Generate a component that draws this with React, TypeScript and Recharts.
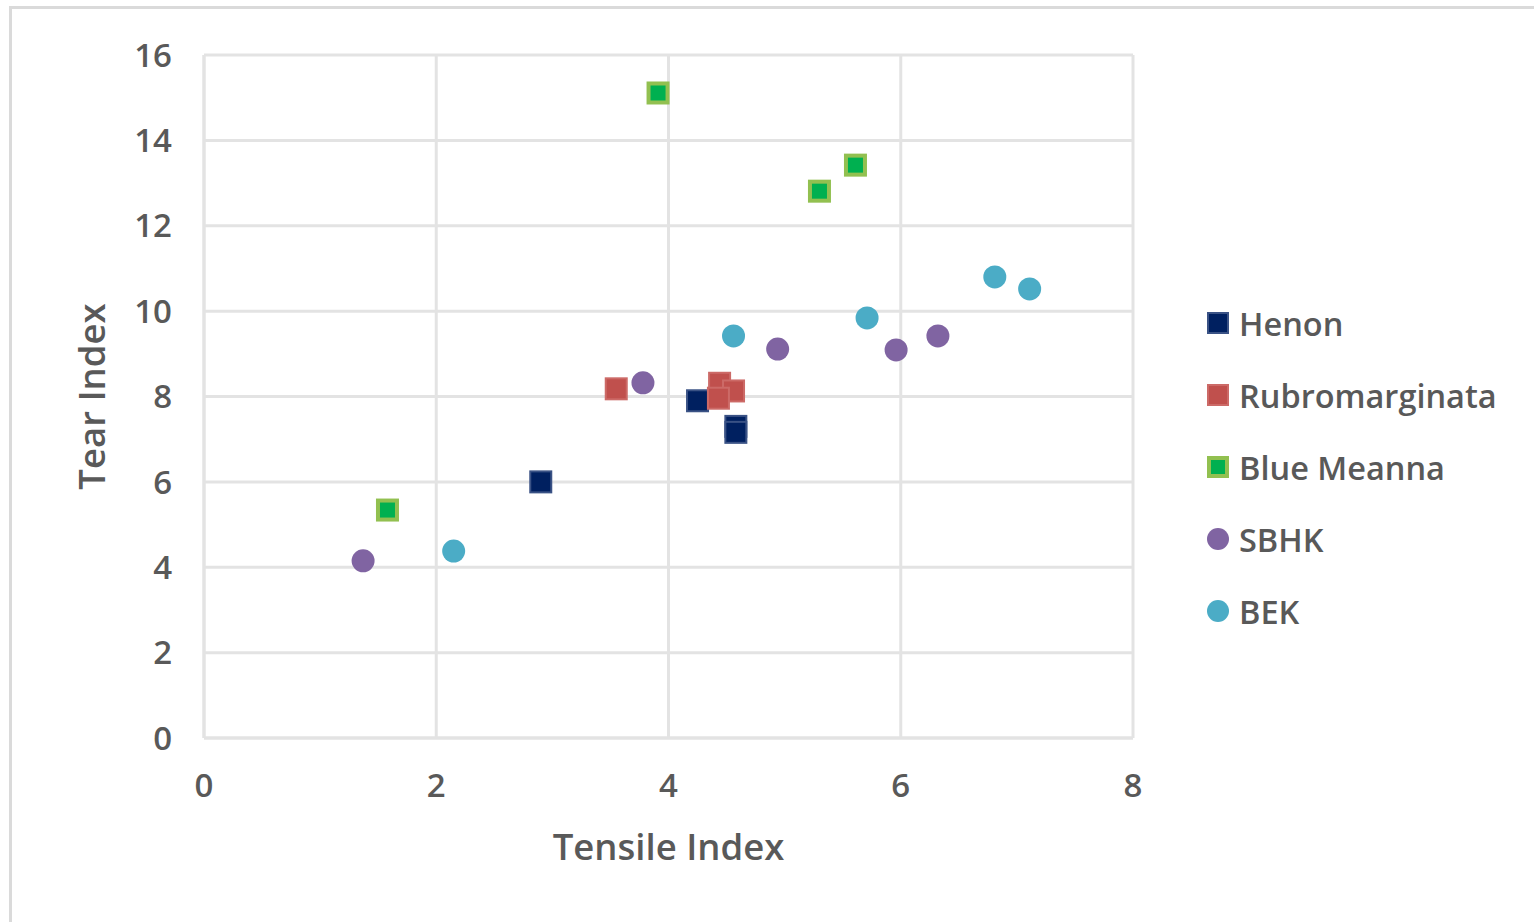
import { ScatterChart, Scatter, XAxis, YAxis, CartesianGrid } from "recharts";

const henonX = [2.9, 4.25, 4.58, 4.58];
const henonY = [6.0, 7.9, 7.3, 7.16];
const rubroX = [3.55, 4.44, 4.56, 4.43];
const rubroY = [8.18, 8.31, 8.13, 7.96];
const meannaX = [3.91, 5.3, 5.61, 1.58];
const meannaY = [15.11, 12.81, 13.42, 5.34];
const sbhkX = [1.37, 3.78, 4.94, 5.96, 6.32];
const sbhkY = [4.15, 8.32, 9.11, 9.09, 9.42];
const bekX = [2.15, 4.56, 5.71, 6.81, 7.11];
const bekY = [4.38, 9.42, 9.84, 10.8, 10.52];

const xTicks = [0, 2, 4, 6, 8];
const yTicks = [0, 2, 4, 6, 8, 10, 12, 14, 16];

const toPoints = (xs: number[], ys: number[]) => xs.map((x, i) => ({ x, y: ys[i] }));

const series = [
  { name: "Henon", data: toPoints(henonX, henonY), kind: "square", fill: "#002060", stroke: "#3a5285", sw: 2 },
  { name: "Rubromarginata", data: toPoints(rubroX, rubroY), kind: "square", fill: "#C0504D", stroke: "#cc6a67", sw: 2 },
  { name: "Blue Meanna", data: toPoints(meannaX, meannaY), kind: "square", fill: "#00B050", stroke: "#92C050", sw: 4 },
  { name: "SBHK", data: toPoints(sbhkX, sbhkY), kind: "circle", fill: "#8064A2", stroke: "#8064A2", sw: 0 },
  { name: "BEK", data: toPoints(bekX, bekY), kind: "circle", fill: "#4BACC6", stroke: "#4BACC6", sw: 0 },
];

const font = "'Open Sans', sans-serif";
const textColor = "#595959";

function makeShape(s: any) {
  return (props: any) => {
    const { cx, cy } = props;
    if (s.kind === "circle") {
      return <circle cx={cx} cy={cy} r={11.5} fill={s.fill} />;
    }
    const size = 23;
    return (
      <rect
        x={cx - size / 2 + s.sw / 2}
        y={cy - size / 2 + s.sw / 2}
        width={size - s.sw}
        height={size - s.sw}
        fill={s.fill}
        stroke={s.stroke}
        strokeWidth={s.sw}
      />
    );
  };
}

function LegendBox() {
  return (
    <div style={{ fontFamily: font, color: textColor }}>
      {series.map((s) => (
        <div key={s.name} style={{ display: "flex", alignItems: "center", height: 72 }}>
          <svg width={26} height={26} style={{ marginRight: 8 }}>
            {s.kind === "circle" ? (
              <circle cx={13} cy={13} r={11} fill={s.fill} />
            ) : (
              <rect
                x={2 + s.sw / 2}
                y={2 + s.sw / 2}
                width={22 - s.sw}
                height={22 - s.sw}
                fill={s.fill}
                stroke={s.stroke}
                strokeWidth={s.sw}
              />
            )}
          </svg>
          <span style={{ fontSize: 32.5, fontWeight: 600 }}>{s.name}</span>
        </div>
      ))}
    </div>
  );
}

export default function App() {
  return (
    <div style={{ position: "absolute", left: 0, top: 0, width: 1534, height: 922, overflow: "hidden", background: "#fff" }}>
      <div
        style={{
          position: "absolute",
          left: 9,
          top: 6,
          width: 1600,
          height: 1000,
          border: "3px solid #dadada",
        }}
      />
      <div style={{ position: "absolute", left: 0, top: 0 }}>
        <ScatterChart width={1534} height={922} margin={{ top: 55, right: 401, bottom: 60, left: 80 }}>
          <CartesianGrid stroke="#e3e3e3" strokeWidth={3} />
          <XAxis
            type="number"
            dataKey="x"
            domain={[0, 8]}
            ticks={xTicks}
            interval={0}
            height={124}
            tickLine={false}
            axisLine={{ stroke: "#e3e3e3", strokeWidth: 3 }}
            tickSize={0}
            tickMargin={36}
            tick={{ fill: textColor, fontSize: 33, fontFamily: font, fontWeight: 600 }}
            label={{
              value: "Tensile Index",
              position: "insideBottom",
              offset: 2,
              style: { fill: textColor, fontSize: 36.5, fontFamily: font, fontWeight: 600 },
            }}
          />
          <YAxis
            type="number"
            dataKey="y"
            domain={[0, 16]}
            ticks={yTicks}
            interval={0}
            width={124}
            tickLine={false}
            axisLine={{ stroke: "#e3e3e3", strokeWidth: 3 }}
            tickSize={0}
            tickMargin={32}
            tick={{ fill: textColor, fontSize: 33, fontFamily: font, fontWeight: 600 }}
            label={{
              value: "Tear Index",
              angle: -90,
              position: "insideLeft",
              offset: 12,
              style: { fill: textColor, fontSize: 36.5, fontFamily: font, fontWeight: 600, textAnchor: "middle" },
            }}
          />
          {series.map((s) => (
            <Scatter
              key={s.name}
              name={s.name}
              data={s.data}
              fill={s.fill}
              shape={makeShape(s)}
              isAnimationActive={false}
            />
          ))}
        </ScatterChart>
      </div>
      <div style={{ position: "absolute", left: 1205, top: 287, width: 329 }}>
        <LegendBox />
      </div>
    </div>
  );
}
